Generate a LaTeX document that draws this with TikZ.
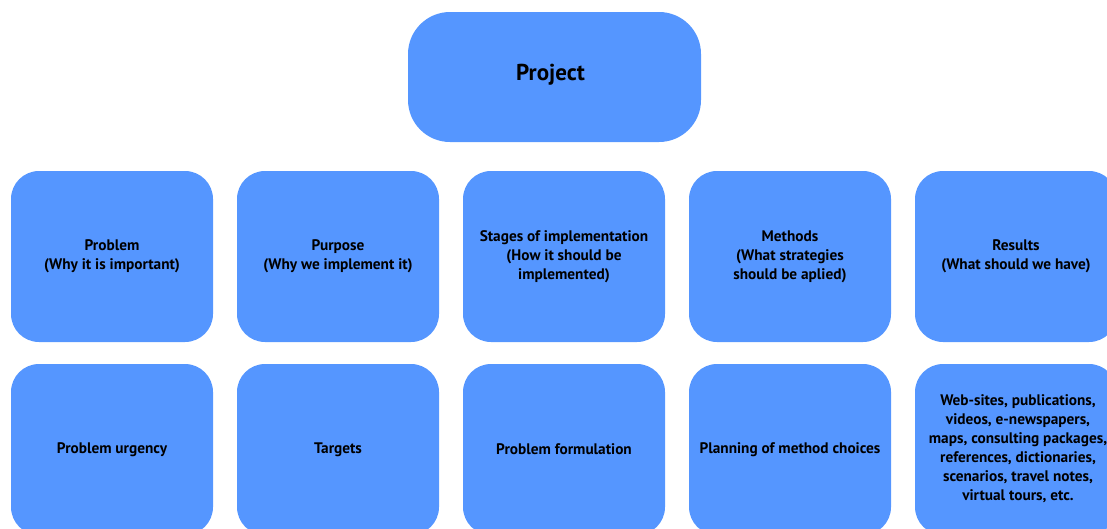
\documentclass[tikz,border=0pt]{standalone}
\usepackage{fontspec}
\setmainfont{PT Sans}
\definecolor{boxblue}{HTML}{5596FF}
\begin{document}
\begin{tikzpicture}[x=1pt,y=-1pt,
  box/.style={fill=boxblue,draw=none,rounded corners=28pt,minimum width=202pt,minimum height=171pt,
    align=center,font=\fontsize{15.3}{19}\selectfont\bfseries,text=black,inner sep=0pt},
  topbox/.style={box,rounded corners=42pt,minimum width=293pt,minimum height=130pt,font=\fontsize{23}{26}\selectfont\bfseries}]
\useasboundingbox (0,0) rectangle (1107,528);
\clip (0,0) rectangle (1107,528);
\node[topbox] (project) at (554.5,77) {\raisebox{10pt}{Project}\hspace*{8pt}};
\node[box] (a1) at (112,256.5) {Problem\\(Why it is important)};
\node[box] (a2) at (338,256.5) {Purpose\\(Why we implement it)};
\node[box] (a3) at (564,256.5) {Stages of implementation\\(How it should be\\implemented)};
\node[box] (a4) at (790,256.5) {Methods\\(What strategies\\should be aplied)};
\node[box] (a5) at (1016,256.5) {Results\\(What should we have)};
\node[box] (b1) at (112,449.5) {Problem urgency};
\node[box] (b2) at (338,449.5) {Targets};
\node[box] (b3) at (564,449.5) {Problem formulation};
\node[box] (b4) at (790,449.5) {Planning of method choices};
\node[box] (b5) at (1016,449.5) {\hspace*{4pt}\begin{tabular}{@{}c@{}}Web-sites, publications,\\videos, e-newspapers,\\maps, consulting packages,\\references, dictionaries,\\scenarios, travel notes,\\virtual tours, etc.\end{tabular}};
\end{tikzpicture}
\end{document}
